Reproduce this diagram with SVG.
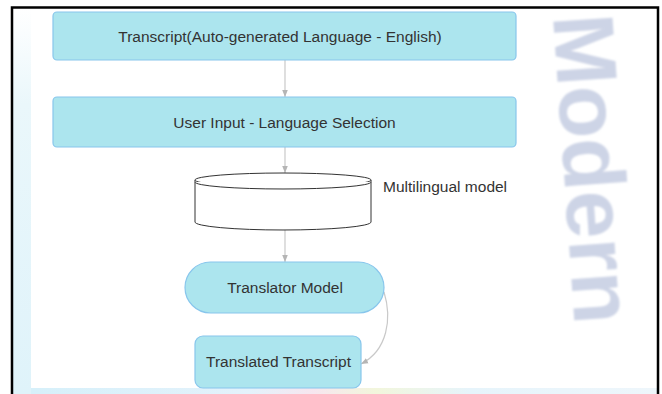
<svg xmlns="http://www.w3.org/2000/svg" width="662" height="394" viewBox="0 0 662 394">
  <style>
    .box { fill: #ace5ee; stroke: #88c6ec; stroke-width: 1.2; }
    .lbl { font-family: "Liberation Sans", Arial, sans-serif; font-size: 15.5px; fill: #333333; text-anchor: middle; }
    .side { font-family: "Liberation Sans", Arial, sans-serif; font-size: 15.5px; fill: #333333; }
    .edge { fill: none; stroke: #c9c9c9; stroke-width: 1.2; }
    .db { fill: #ffffff; stroke: #333333; stroke-width: 1; }
    .wm { font-family: "Liberation Sans", Arial, sans-serif; font-weight: bold; font-size: 86px; fill: #cdd4e6; }
  </style>
  <defs>
    <marker id="arrow" viewBox="0 0 10 10" refX="10" refY="5" markerWidth="7" markerHeight="7" orient="auto" markerUnits="userSpaceOnUse">
      <path d="M0,1 L10,5 L0,9 Z" fill="#b5b5b5"/>
    </marker>
    <linearGradient id="leftTint" x1="0" y1="0" x2="0" y2="1">
      <stop offset="0" stop-color="#ffffff"/>
      <stop offset="0.25" stop-color="#eaf7fb"/>
      <stop offset="1" stop-color="#dff3fa"/>
    </linearGradient>
    <linearGradient id="bottomTint" x1="0" y1="0" x2="1" y2="0">
      <stop offset="0" stop-color="#d6f0fa"/>
      <stop offset="0.35" stop-color="#e4f2fb"/>
      <stop offset="0.45" stop-color="#f7e6ef"/>
      <stop offset="0.55" stop-color="#f2f6dc"/>
      <stop offset="0.7" stop-color="#e6f4fb"/>
      <stop offset="1" stop-color="#eef6fb"/>
    </linearGradient>
    <filter id="soft" x="-10%" y="-10%" width="120%" height="120%">
      <feGaussianBlur stdDeviation="1.2"/>
    </filter>
  </defs>

  <!-- page background -->
  <rect x="0" y="0" width="662" height="394" fill="#ffffff"/>
  <rect x="13" y="8" width="18" height="386" fill="url(#leftTint)"/>

  <!-- diagram panel -->
  <rect x="31" y="8" width="500" height="380" fill="#ffffff"/>
  <rect x="31" y="388" width="627" height="6" fill="url(#bottomTint)"/>

  <!-- watermark on the page margin -->
  <g id="watermark" filter="url(#soft)">
    <text class="wm" transform="translate(553,16) rotate(86)">Modern</text>
  </g>

  <!-- page frame -->
  <path d="M12,394 V7.5 H658 V394" fill="none" stroke="#000000" stroke-width="2.5"/>

  <g id="connectors">
    <line class="edge" x1="285" y1="60" x2="285" y2="97" marker-end="url(#arrow)"/>
    <line class="edge" x1="285" y1="147" x2="285" y2="173" marker-end="url(#arrow)"/>
    <line class="edge" x1="285" y1="230" x2="285" y2="262" marker-end="url(#arrow)"/>
    <path class="edge" d="M384,292 C392,318 388,350 361,364" marker-end="url(#arrow)"/>
  </g>

  <g id="transcript">
    <rect class="box" x="53" y="12" width="463" height="48" rx="4"/>
    <text class="lbl" x="280" y="41.5">Transcript(Auto-generated Language - English)</text>
  </g>

  <g id="language-selection">
    <rect class="box" x="53" y="97" width="463" height="50" rx="4"/>
    <text class="lbl" x="284.5" y="127.5">User Input - Language Selection</text>
  </g>

  <g id="multilingual-model">
    <path class="db" d="M195,180 V222 A88,8 0 0 0 371,222 V180"/>
    <ellipse class="db" cx="283" cy="180" rx="88" ry="7"/>
    <path class="db" d="M195,182 A88,7 0 0 0 371,182" fill="none"/>
    <text class="side" x="383" y="191.5">Multilingual model</text>
  </g>

  <g id="translator-model">
    <rect class="box" x="185" y="262" width="199" height="51" rx="25.5"/>
    <text class="lbl" x="285" y="293">Translator Model</text>
  </g>

  <g id="translated-transcript">
    <rect class="box" x="195" y="336" width="166" height="52" rx="8"/>
    <text class="lbl" x="278.5" y="367">Translated Transcript</text>
  </g>
</svg>
